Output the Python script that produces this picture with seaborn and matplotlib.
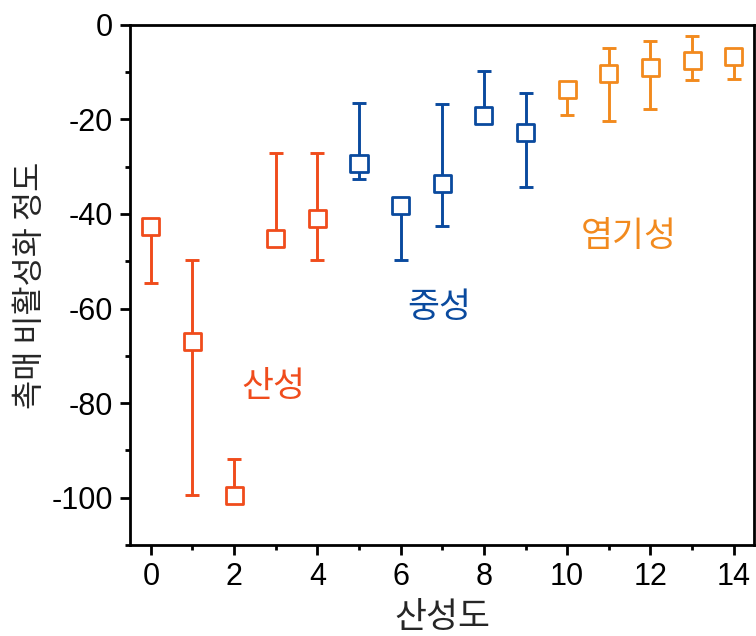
import numpy as np
import pandas as pd
import seaborn as sns
import matplotlib
matplotlib.use("Agg")
import matplotlib.pyplot as plt
from matplotlib.ticker import MultipleLocator

# Data
acidity = [0, 1, 2, 3, 4, 5, 6, 7, 8, 9, 10, 11, 12, 13, 14]
deactivation = [-42.7, -66.9, -99.6, -45.2, -41.0, -29.3, -38.2, -33.5,
                -19.1, -22.7, -13.6, -10.4, -9.1, -7.6, -6.6]
err_lower = [11.9, 32.5, 1.0, 1.0, 8.7, 3.2, 11.5, 9.0,
             1.0, 11.7, 5.5, 10.0, 8.7, 4.1, 4.9]
err_upper = [1.0, 17.2, 7.9, 18.2, 14.0, 12.7, 1.0, 16.7,
             9.3, 8.3, 1.0, 5.5, 5.7, 5.3, 1.0]
group = ["산성"] * 5 + ["중성"] * 5 + ["염기성"] * 5

group_names = ["산성", "중성", "염기성"]
group_colors = ["#F04C1C", "#0A4A9E", "#F28A1E"]
label_pos = [(2.95, -76.5), (6.93, -59.8), (11.48, -44.8)]

KR = ["Noto Sans CJK KR", "DejaVu Sans"]

sns.set_theme(style="ticks")
plt.rcParams.update({
    "font.family": ["Liberation Sans", "Noto Sans CJK KR", "DejaVu Sans"],
    "axes.unicode_minus": False,
    "axes.linewidth": 2.0,
    "xtick.major.width": 2.0, "ytick.major.width": 2.0,
    "xtick.minor.width": 2.0, "ytick.minor.width": 2.0,
    "xtick.major.size": 7, "ytick.major.size": 7,
    "xtick.minor.size": 3.6, "ytick.minor.size": 3.6,
    "xtick.major.pad": 5, "ytick.major.pad": 5,
    "xtick.color": "black", "ytick.color": "black",
    "axes.edgecolor": "black",
})

df = pd.DataFrame({"x": acidity, "y": deactivation,
                   "lo": err_lower, "hi": err_upper, "group": group})
palette = dict(zip(group_names, group_colors))

fig = plt.figure(figsize=(7.56, 6.36), dpi=100)
ax = fig.add_axes([0.172, 0.143, 0.826, 0.818])

# error bars first, hollow square markers on top
for name in group_names:
    sub = df[df["group"] == name]
    ax.errorbar(sub["x"], sub["y"], yerr=[sub["lo"], sub["hi"]], fmt="none",
                ecolor=palette[name], elinewidth=2.1, capsize=5,
                capthick=2.1, zorder=2)

sns.scatterplot(data=df, x="x", y="y", hue="group", palette=palette,
                marker="s", s=150, linewidth=2.0, legend=False, ax=ax,
                zorder=3)
coll = ax.collections[-1]
coll.set_edgecolors(coll.get_facecolors())
coll.set_facecolors("white")

for name, color, (tx, ty) in zip(group_names, group_colors, label_pos):
    ax.text(tx, ty, name, color=color, fontsize=25, ha="center", va="center",
            family=KR)

ax.set_xlim(-0.5, 14.5)
ax.set_ylim(-110, 0)
ax.xaxis.set_major_locator(MultipleLocator(2))
ax.xaxis.set_minor_locator(MultipleLocator(1))
ax.yaxis.set_major_locator(MultipleLocator(20))
ax.yaxis.set_minor_locator(MultipleLocator(10))
ax.tick_params(axis="both", which="both", direction="out",
               top=False, right=False, labelsize=22)

for spine in ax.spines.values():
    spine.set_visible(True)
    spine.set_linewidth(2.0)

ax.set_xlabel("산성도", fontsize=25, family=KR)
ax.set_ylabel("촉매 비활성화 정도", fontsize=22.8, family=KR)
ax.xaxis.set_label_coords(0.5, -0.105)
ax.yaxis.set_label_coords(-0.134, 0.5)

fig.savefig("out.png", dpi=100, facecolor="white")
